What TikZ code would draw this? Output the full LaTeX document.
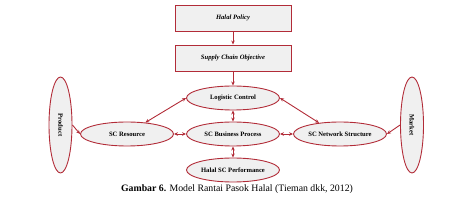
\documentclass[tikz,border=0pt]{standalone}
\usepackage{fontspec}
\setmainfont{Liberation Serif}
\usetikzlibrary{shapes.geometric,arrows.meta}
\definecolor{halred}{RGB}{178,44,56}
\definecolor{halfill}{RGB}{240,240,240}

\begin{document}
\begin{tikzpicture}[x=1pt, y=-1pt, font=\fontsize{6.6}{7.6}\selectfont\bfseries, line width=0.9pt,
  topbox/.style={draw=halred, fill=halfill, minimum width=116pt, minimum height=26pt, inner sep=0pt, font=\fontsize{6.6}{7.6}\selectfont\bfseries\itshape},
  procell/.style={ellipse, draw=halred, fill=halfill, minimum width=93pt, minimum height=24pt, inner sep=0pt},
  sideell/.style={ellipse, draw=halred, fill=halfill, minimum width=23pt, minimum height=96pt, inner sep=0pt},
  arr/.style={-{Stealth[length=4pt,width=3.5pt]}, color=halred, line width=0.9pt},
  darr/.style={{Stealth[length=4pt,width=3.5pt]}-{Stealth[length=4pt,width=3.5pt]}, color=halred, line width=0.9pt}]
\useasboundingbox (0,0) rectangle (474,208);
% ---- objective chain
\node[topbox] (policy) at (233,18) {Halal Policy};
\node[topbox] (objective) at (233,58) {Supply Chain Objective};
% ---- process ellipses
\node[procell] (logistic) at (233,98) {Logistic Control};
\node[procell] (business) at (233,134) {SC Business Process};
\node[procell] (perform) at (233,170) {Halal SC Performance};
\node[procell] (resource) at (127,134) {SC Resource};
\node[procell] (network) at (340,134) {SC Network Structure};
% ---- product and market
\node[sideell] (product) at (60.5,125) {};
\node[rotate=-90] at (product.center) {Product};
\node[sideell] (market) at (412,125) {};
\node[rotate=-90] at (market.center) {Market};
% ---- connectors
\draw[arr] (policy.south) -- (objective.north);
\draw[arr] (objective.south) -- (logistic.north);
\draw[darr] (logistic.south) -- (business.north);
\draw[darr] (business.south) -- (perform.north);
\draw[darr] (resource.east) -- (business.west);
\draw[darr] (business.east) -- (network.west);
\draw[darr] (logistic.west) -- (resource.32);
\draw[darr] (logistic.east) -- (network.152);
\draw[arr] (product.east) -- (resource.west);
\draw[arr] (market.west) -- (network.east);
% ---- caption
\node[font=\fontsize{9.8}{11}\selectfont] (caption) at (237,189) {\textbf{Gambar 6.} Model Rantai Pasok Halal (Tieman dkk, 2012)};
\end{tikzpicture}
\end{document}
